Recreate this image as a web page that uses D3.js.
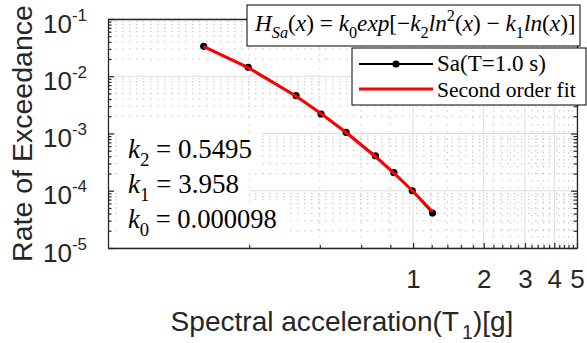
<!DOCTYPE html>
<html><head><meta charset="utf-8">
<script src="https://cdn.jsdelivr.net/npm/d3@7"></script>
<style>html,body{margin:0;padding:0;background:#fff;}svg{display:block;}</style>
</head><body>
<svg id="c" width="587" height="343"></svg>
<script>
// ---- data ----
const sa       = [0.128, 0.198, 0.317, 0.405, 0.518, 0.691, 0.828, 0.992, 1.21];
const rate     = [0.0333, 0.01433, 0.00457, 0.00219, 0.00105, 0.000409, 0.000207, 0.0001, 0.0000408];
const fitRate  = [0.0328, 0.0141, 0.00448, 0.00224, 0.00104, 0.000393, 0.000203, 0.000101, 0.000043];
const xTickLabels = [1, 2, 3, 4, 5];
const yTickExps   = [-5, -4, -3, -2, -1];
const kLabels = [["2", "0.5495"], ["1", "3.958"], ["0", "0.000098"]];
const legendLabels = ["Sa(T=1.0 s)", "Second order fit"];

const svg = d3.select("#c");
const L = 108, R = 577, T = 19, B = 248;
const x = d3.scaleLog().domain([0.05, 5]).range([L, R]);
const y = d3.scaleLog().domain([1e-5, 1e-1]).range([B, T]);
const axisCol = "#262626";

const xMinor = d3.range(1, 26).map(i => Math.round(i * 2) / 10).filter(v => !xTickLabels.includes(v));
const yMajor = yTickExps.map(e => Math.pow(10, e));
const yMinor = [];
yTickExps.slice(0, -1).forEach(e => { for (let m = 2; m <= 9; m++) yMinor.push(m * Math.pow(10, e)); });

// ---- grid ----
const grid = svg.append("g");
grid.selectAll(".gxm").data(xMinor).join("line")
  .attr("x1", d => x(d)).attr("x2", d => x(d)).attr("y1", T).attr("y2", B)
  .attr("stroke", "#c4c4c4").attr("stroke-width", 1).attr("stroke-dasharray", "1.5,5.5");
grid.selectAll(".gym").data(yMinor).join("line")
  .attr("y1", d => y(d)).attr("y2", d => y(d)).attr("x1", L).attr("x2", R)
  .attr("stroke", "#c4c4c4").attr("stroke-width", 1).attr("stroke-dasharray", "1.5,5.5");
grid.selectAll(".gxM").data(xTickLabels).join("line")
  .attr("x1", d => x(d)).attr("x2", d => x(d)).attr("y1", T).attr("y2", B)
  .attr("stroke", "#dcdcdc").attr("stroke-width", 1);
grid.selectAll(".gyM").data(yMajor).join("line")
  .attr("y1", d => y(d)).attr("y2", d => y(d)).attr("x1", L).attr("x2", R)
  .attr("stroke", "#dcdcdc").attr("stroke-width", 1);

// ---- rich text helper ----
function rich(textSel, parts) {
  let shift = 0;
  parts.forEach(p => {
    const t = p.s === "sub" ? 0.3 : p.s === "sup" ? -0.42 : 0;
    const f = p.s ? 0.7 : 1;
    const ts = textSel.append("tspan").text(p.t);
    if (p.s) ts.attr("font-size", "0.7em");
    if (p.it) ts.attr("font-style", "italic");
    if (t !== shift) ts.attr("dy", ((t - shift) / f) + "em");
    if (p.dx) ts.attr("dx", p.dx);
    shift = t;
  });
  return textSel;
}
function fitW(sel, w) {
  const bw = sel.node().getBBox().width;
  const fs = parseFloat(sel.attr("font-size"));
  sel.attr("font-size", fs * w / bw);
}

// ---- k annotations ----
const kg = svg.append("g");
const kBase = [158, 193, 228];
const kW = [124, 111, 149];
const kRectR = [262, 249, 290];
kLabels.forEach((k, i) => {
  kg.append("rect").attr("x", 117).attr("y", kBase[i] - 25).attr("width", kRectR[i] - 117).attr("height", 36)
    .attr("fill", "#fff");
});
kLabels.forEach((k, i) => {
  const t = kg.append("text").attr("x", 128).attr("y", kBase[i])
    .attr("font-family", "'Liberation Serif', 'DejaVu Serif', serif").attr("font-size", 21).attr("fill", "#000");
  rich(t, [{t: "k", it: 1}, {t: k[0], s: "sub"}, {t: " = " + k[1]}]);
  fitW(t, kW[i]);
});

// ---- data ----
const lineGen = d3.line().x((d, i) => x(sa[i])).y(d => y(d));
svg.append("path").datum(rate).attr("d", lineGen).attr("fill", "none").attr("stroke", "#000").attr("stroke-width", 2);
svg.selectAll(".pt").data(rate).join("circle")
  .attr("cx", (d, i) => x(sa[i])).attr("cy", d => y(d)).attr("r", 3.6).attr("fill", "#000");
svg.append("path").datum(fitRate).attr("d", lineGen).attr("fill", "none").attr("stroke", "#f00").attr("stroke-width", 3)
  .attr("stroke-linejoin", "round");

// ---- axes ----
function styleAxis(g) {
  g.select(".domain").attr("stroke", axisCol).attr("stroke-width", 1.3);
  g.selectAll(".tick line").attr("stroke", axisCol).attr("stroke-width", 1.2);
  g.selectAll(".tick text").remove();
}
const axB = svg.append("g").attr("transform", `translate(0,${B})`)
  .call(d3.axisBottom(x).tickValues(xTickLabels).tickSizeInner(-5).tickSizeOuter(0));
styleAxis(axB);
svg.append("g").attr("transform", `translate(0,${B})`)
  .call(d3.axisBottom(x).tickValues(xMinor).tickSizeInner(-3).tickSizeOuter(0).tickFormat(""))
  .call(g => { g.select(".domain").remove(); g.selectAll(".tick line").attr("stroke", axisCol).attr("stroke-width", 1.2); });
const axT = svg.append("g").attr("transform", `translate(0,${T})`)
  .call(d3.axisTop(x).tickValues(xTickLabels).tickSizeInner(-5).tickSizeOuter(0));
styleAxis(axT);
svg.append("g").attr("transform", `translate(0,${T})`)
  .call(d3.axisTop(x).tickValues(xMinor).tickSizeInner(-3).tickSizeOuter(0).tickFormat(""))
  .call(g => { g.select(".domain").remove(); g.selectAll(".tick line").attr("stroke", axisCol).attr("stroke-width", 1.2); });
const axL = svg.append("g").attr("transform", `translate(${L},0)`)
  .call(d3.axisLeft(y).tickValues(yMajor).tickSizeInner(-6).tickSizeOuter(0));
styleAxis(axL);
svg.append("g").attr("transform", `translate(${L},0)`)
  .call(d3.axisLeft(y).tickValues(yMinor).tickSizeInner(-3.5).tickSizeOuter(0).tickFormat(""))
  .call(g => { g.select(".domain").remove(); g.selectAll(".tick line").attr("stroke", axisCol).attr("stroke-width", 1.2); });
const axR = svg.append("g").attr("transform", `translate(${R},0)`)
  .call(d3.axisRight(y).tickValues(yMajor).tickSizeInner(-6).tickSizeOuter(0));
styleAxis(axR);
svg.append("g").attr("transform", `translate(${R},0)`)
  .call(d3.axisRight(y).tickValues(yMinor).tickSizeInner(-3.5).tickSizeOuter(0).tickFormat(""))
  .call(g => { g.select(".domain").remove(); g.selectAll(".tick line").attr("stroke", axisCol).attr("stroke-width", 1.2); });

// tick labels
axB.selectAll(".tick").append("text").text(d => d)
  .attr("y", 40).attr("text-anchor", "middle").attr("fill", axisCol)
  .attr("font-family", "'Liberation Sans', Arial, sans-serif").attr("font-size", 26);
axL.selectAll(".tick").each(function (d, i) {
  const t = d3.select(this).append("text").attr("x", -21).attr("y", 13).attr("text-anchor", "end")
    .attr("fill", axisCol).attr("font-family", "'Liberation Sans', Arial, sans-serif").attr("font-size", 26);
  t.append("tspan").text("10");
  t.append("tspan").text("-" + Math.abs(Math.round(Math.log10(d)))).attr("font-size", 17).attr("dy", -12);
});

// axis titles
const xt = svg.append("text").attr("x", 342).attr("y", 331).attr("text-anchor", "middle").attr("fill", axisCol)
  .attr("font-family", "'Liberation Sans', Arial, sans-serif").attr("font-size", 28);
rich(xt, [{t: "Spectral acceleration(T"}, {t: "1", s: "sub", dx: 3}, {t: ")[g]"}]);
fitW(xt, 343);
const yt = svg.append("text").attr("transform", "translate(32,133.5) rotate(-90)").attr("text-anchor", "middle")
  .attr("fill", axisCol).attr("font-family", "'Liberation Sans', Arial, sans-serif").attr("font-size", 28)
  .text("Rate of Exceedance");
fitW(yt, 257);

// ---- formula box ----
svg.append("rect").attr("x", 247).attr("y", 5).attr("width", 333).attr("height", 41)
  .attr("fill", "#fff").attr("stroke", "#000").attr("stroke-width", 1);
const ft = svg.append("text").attr("x", 255).attr("y", 31)
  .attr("font-family", "'Liberation Serif', 'DejaVu Serif', serif").attr("font-size", 20).attr("fill", "#000");
rich(ft, [
  {t: "H", it: 1}, {t: "Sa", it: 1, s: "sub"}, {t: "("}, {t: "x", it: 1}, {t: ") = "},
  {t: "k", it: 1}, {t: "0", s: "sub"}, {t: "exp", it: 1}, {t: "[\u2212"}, {t: "k", it: 1}, {t: "2", s: "sub"},
  {t: "ln", it: 1}, {t: "2", s: "sup"}, {t: "("}, {t: "x", it: 1}, {t: ") \u2212 "}, {t: "k", it: 1}, {t: "1", s: "sub"},
  {t: "ln", it: 1}, {t: "("}, {t: "x", it: 1}, {t: ")]"}
]);
fitW(ft, 322);

// ---- legend ----
const lg = svg.append("g");
lg.append("rect").attr("x", 352).attr("y", 48).attr("width", 234).attr("height", 57)
  .attr("fill", "#fff").attr("stroke", "#000").attr("stroke-width", 1);
lg.append("line").attr("x1", 359).attr("x2", 433).attr("y1", 64).attr("y2", 64).attr("stroke", "#000").attr("stroke-width", 2);
lg.append("circle").attr("cx", 396).attr("cy", 64).attr("r", 3.6).attr("fill", "#000");
lg.append("line").attr("x1", 359).attr("x2", 433).attr("y1", 89).attr("y2", 89).attr("stroke", "#f00").attr("stroke-width", 3);
const lw = [109, 139];
const lb = [71, 97];
legendLabels.forEach((s, i) => {
  const t = lg.append("text").attr("x", 437).attr("y", lb[i])
    .attr("font-family", "'Liberation Serif', 'DejaVu Serif', serif").attr("font-size", 21).attr("fill", "#000").text(s);
  fitW(t, lw[i]);
});
</script>
</body></html>
